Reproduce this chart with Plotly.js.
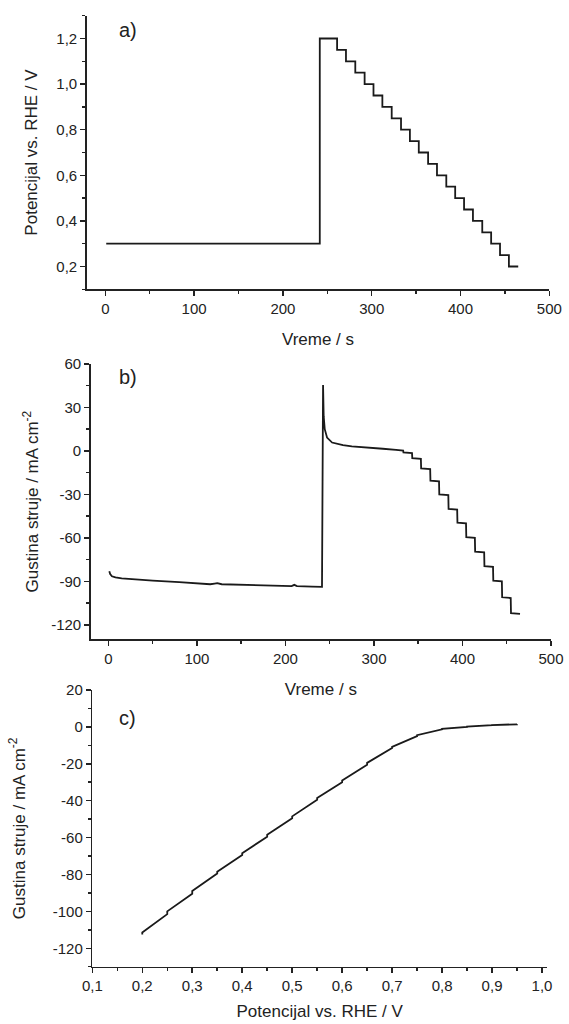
<!DOCTYPE html>
<html>
<head>
<meta charset="utf-8">
<script src="https://cdn.plot.ly/plotly-3.0.1.min.js"></script>
<style>html,body{margin:0;padding:0;background:#fff;}#chart{width:569px;height:1024px;}</style>
</head>
<body>
<div id="chart"></div>
<script>
// Panel a: potential vs time (step profile)
const timeA = [1, 240, 241.5, 261, 271, 281.5, 292, 302, 312, 322.5, 333, 343, 353, 363.5, 373.5, 384, 394, 404, 414, 424.5, 434.5, 444.5, 454.5, 465];
const potentialA = [0.3, 0.3, 1.2, 1.15, 1.10, 1.05, 1.00, 0.95, 0.90, 0.85, 0.80, 0.75, 0.70, 0.65, 0.60, 0.55, 0.50, 0.45, 0.40, 0.35, 0.30, 0.25, 0.20, 0.20];

// Panel b: current density vs time
const timeB = [1, 2, 4, 8, 15, 30, 50, 80, 100, 115, 120, 123, 128, 150, 180, 200, 207, 210, 213, 230, 241.3, 242.5, 243.2, 244.4, 247, 252.7, 258, 265, 275, 290, 310, 325, 333,
  333.3, 343, 343.3, 353, 353.3, 363.5, 363.8, 373.5, 373.8, 384, 384.3, 394, 394.3, 404, 404.3, 414, 414.3, 424.5, 424.8, 434.5, 434.8, 444.5, 444.8, 454.5, 454.8, 465];
const currentB = [-83, -85, -86.5, -87.3, -88, -88.7, -89.5, -90.5, -91.5, -92, -91.5, -91.2, -92, -92.5, -93.2, -93.5, -93.3, -92.4, -93.3, -93.6, -93.8, 45.5, 24, 15, 9.2, 5.8, 4.8, 4, 3.2, 2.3, 1.5, 0.8, 0.2,
  -1, -1.5, -5, -5.5, -12, -12.5, -20.5, -21, -30, -30.5, -40, -40.5, -49.5, -50, -59.5, -60, -69.5, -70, -79.5, -80, -89.5, -90, -101, -101.5, -112, -112.5];

// Panel c: current density vs potential
const potentialC = [0.2, 0.2, 0.25, 0.25, 0.3, 0.3, 0.35, 0.35, 0.4, 0.4, 0.45, 0.45, 0.5, 0.5, 0.55, 0.55, 0.6, 0.6, 0.65, 0.65, 0.7, 0.7, 0.75, 0.75, 0.8, 0.8, 0.85, 0.85, 0.9, 0.9, 0.95, 0.95];
const currentC = [-112.5, -111.5, -101.5, -100, -90.5, -89, -79.5, -78.5, -69.5, -68.5, -59.5, -58.5, -49.5, -48.5, -39.5, -38.5, -30, -29, -20.5, -19.5, -11.5, -10.8, -5, -4.5, -1.3, -1, 0, 0.2, 0.9, 1, 1.4, 1.5];

// Tick labels
const tickValsB = [-120, -90, -60, -30, 0, 30, 60];
const tickTextB = ['-120', '-90', '-60', '-30', '0', '30', '60'];
const tickValsCy = [-120, -100, -80, -60, -40, -20, 0, 20];
const tickTextCy = ['-120', '-100', '-80', '-60', '-40', '-20', '0', '20'];
const tickValsCx = [0.1, 0.2, 0.3, 0.4, 0.5, 0.6, 0.7, 0.8, 0.9, 1.0];
const tickTextCx = ['0,1', '0,2', '0,3', '0,4', '0,5', '0,6', '0,7', '0,8', '0,9', '1,0'];
const tickValsAy = [0.2, 0.4, 0.6, 0.8, 1.0, 1.2];
const tickTextAy = ['0,2', '0,4', '0,6', '0,8', '1,0', '1,2'];

const FONT = 'Liberation Sans, Arial, sans-serif';
const INK = '#222';
const W = 569, H = 1024;
const dx = (a, b) => [a / W, b / W];
const dy = (top, bottom) => [1 - bottom / H, 1 - top / H];

function axis(extra) {
  return Object.assign({
    showline: true, linecolor: INK, linewidth: 1.5,
    ticks: 'outside', ticklen: 5, tickwidth: 1.5, tickcolor: INK,
    showgrid: false, zeroline: false, mirror: false, automargin: false,
    tickfont: {family: FONT, size: 15, color: INK}
  }, extra);
}
function minor(d, t0) {
  return {ticks: 'outside', ticklen: 3, tickwidth: 1.5, tickcolor: INK, dtick: d, tick0: t0, showgrid: false};
}
const titleFont = {family: FONT, size: 17, color: INK};
const lineStyle = {color: '#1a1a1a', width: 1.8};

const traces = [
  {x: timeA, y: potentialA, type: 'scatter', mode: 'lines', line: Object.assign({shape: 'hv'}, lineStyle), xaxis: 'x', yaxis: 'y', showlegend: false},
  {x: timeB, y: currentB, type: 'scatter', mode: 'lines', line: lineStyle, xaxis: 'x2', yaxis: 'y2', showlegend: false},
  {x: potentialC, y: currentC, type: 'scatter', mode: 'lines', line: lineStyle, xaxis: 'x3', yaxis: 'y3', showlegend: false}
];

const layout = {
  width: W, height: H,
  margin: {l: 0, r: 0, t: 0, b: 0},
  paper_bgcolor: '#fff', plot_bgcolor: '#fff',
  separators: ', ',
  showlegend: false,
  xaxis: axis({domain: dx(86.7, 549.3), anchor: 'y', range: [-21, 500], tickmode: 'linear', tick0: 0, dtick: 100, minor: minor(50, 0),
    title: {text: 'Vreme / s', font: titleFont, standoff: 17}}),
  yaxis: axis({domain: dy(15.7, 289.3), anchor: 'x', range: [0.1, 1.3], tickmode: 'array', tickvals: tickValsAy, ticktext: tickTextAy, minor: minor(0.1, 0.1),
    title: {text: 'Potencijal vs. RHE / V', font: titleFont, standoff: 14}}),
  xaxis2: axis({domain: dx(90.7, 551), anchor: 'y2', range: [-20, 500], tickmode: 'linear', tick0: 0, dtick: 100, minor: minor(50, 0),
    title: {text: 'Vreme / s', font: titleFont, standoff: 17}}),
  yaxis2: axis({domain: dy(364, 639.3), anchor: 'x2', range: [-130, 60], tickmode: 'array', tickvals: tickValsB, ticktext: tickTextB, minor: minor(15, 0),
    title: {text: 'Gustina struje / mA cm<sup>-2</sup>', font: titleFont, standoff: 8}}),
  xaxis3: axis({domain: dx(92.3, 547), anchor: 'y3', range: [0.1, 1.01], tickmode: 'array', tickvals: tickValsCx, ticktext: tickTextCx, minor: minor(0.05, 0.1),
    title: {text: 'Potencijal vs. RHE / V', font: titleFont, standoff: 12}}),
  yaxis3: axis({domain: dy(690, 966.7), anchor: 'x3', range: [-130, 20], tickmode: 'array', tickvals: tickValsCy, ticktext: tickTextCy, minor: minor(10, 0),
    title: {text: 'Gustina struje / mA cm<sup>-2</sup>', font: titleFont, standoff: 23}}),
  annotations: [
    {text: 'a)', xref: 'paper', yref: 'paper', x: 128 / W, y: 1 - 30 / H, showarrow: false, xanchor: 'center', yanchor: 'middle', font: {family: FONT, size: 20, color: INK}},
    {text: 'b)', xref: 'paper', yref: 'paper', x: 128 / W, y: 1 - 377 / H, showarrow: false, xanchor: 'center', yanchor: 'middle', font: {family: FONT, size: 20, color: INK}},
    {text: 'c)', xref: 'paper', yref: 'paper', x: 128 / W, y: 1 - 718 / H, showarrow: false, xanchor: 'center', yanchor: 'middle', font: {family: FONT, size: 20, color: INK}}
  ]
};

Plotly.newPlot('chart', traces, layout, {staticPlot: true, displayModeBar: false});
</script>
</body>
</html>
